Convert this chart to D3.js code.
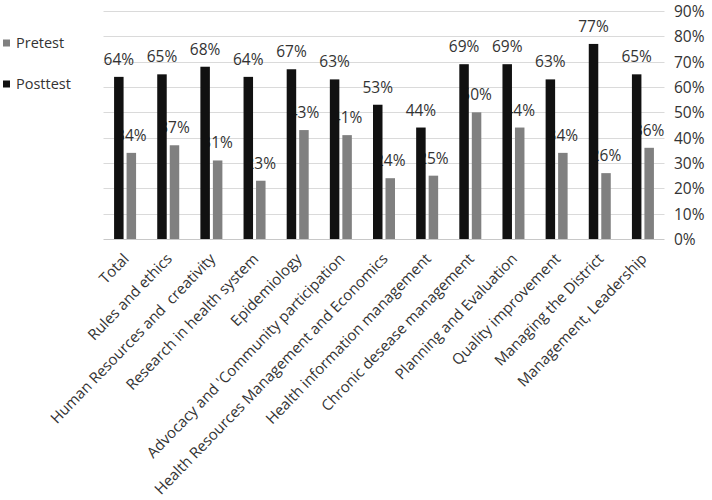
<!DOCTYPE html>
<html><head><meta charset="utf-8">
<script src="https://cdn.jsdelivr.net/npm/d3@7"></script>
<style>body{margin:0;background:#fff}svg{display:block}text{font-family:"Open Sans",sans-serif;white-space:pre}</style>
</head><body><svg id="c" width="712" height="500"></svg>
<script>
const categories = ["Total","Rules and ethics","Human Resources and  creativity","Research in health system","Epidemiology","Advocacy and 'Community participation","Health Resources Management and Economics","Health information management","Chronic desease management","Planning and Evaluation","Quality improvement","Managing the District","Management, Leadership"];
const posttest = [64,65,68,64,67,63,53,44,69,69,63,77,65];
const pretest  = [34,37,31,23,43,41,24,25,50,44,34,26,36];
const yTicks = [0,10,20,30,40,50,60,70,80,90];
const seriesNames = ["Pretest","Posttest"];

(function(){
const svg = d3.select("#c");
const mLeft = 103.5, mRight = 664.5, mTop = 11, mBottom = 239;
const x = d3.scaleBand().domain(categories).range([mLeft, mRight]).padding(0);
const y = d3.scaleLinear().domain([0, 90]).range([mBottom, mTop]);
const bw = 9.5, gap = 3;
const postColor = "#111111", preColor = "#808080", txt = "#333";

svg.append("g").selectAll("line").data(yTicks).join("line")
  .attr("x1", mLeft).attr("x2", mRight)
  .attr("y1", d => Math.round(y(d)) + 0.5).attr("y2", d => Math.round(y(d)) + 0.5)
  .attr("stroke", d => d === 0 ? "#c8c8c8" : "#dadada").attr("stroke-width", 1);

const ax = d3.axisRight(y).tickValues(yTicks).tickFormat(d => d + "%").tickSize(0).tickPadding(0);
const g = svg.append("g").attr("transform", `translate(674,0)`).call(ax);
g.select(".domain").remove();
g.selectAll("text").attr("font-size", 15.5).attr("fill", txt).attr("font-family", '"Open Sans",sans-serif').attr("dy","0.35em");

const cx = d => x(d) + x.bandwidth() / 2;
const data = categories.map((c, i) => ({c, post: posttest[i], pre: pretest[i]}));

svg.append("g").selectAll("text").data(data).join("text")
  .attr("x", d => cx(d.c) + gap/2 + bw/2).attr("y", d => y(d.pre) - 12)
  .attr("text-anchor", "middle").attr("font-size", 15.5).attr("fill", txt)
  .text(d => d.pre + "%");
svg.append("g").selectAll("rect").data(data).join("rect")
  .attr("x", d => cx(d.c) + gap/2).attr("width", bw)
  .attr("y", d => y(d.pre)).attr("height", d => y(0) - y(d.pre)).attr("fill", preColor);
svg.append("g").selectAll("rect").data(data).join("rect")
  .attr("x", d => cx(d.c) - gap/2 - bw).attr("width", bw)
  .attr("y", d => y(d.post)).attr("height", d => y(0) - y(d.post)).attr("fill", postColor);
svg.append("g").selectAll("text").data(data).join("text")
  .attr("x", d => cx(d.c) - gap/2 - bw/2).attr("y", d => y(d.post) - 12)
  .attr("text-anchor", "middle").attr("font-size", 15.5).attr("fill", txt)
  .text(d => d.post + "%");

svg.append("g").selectAll("text").data(categories).join("text")
  .attr("transform", d => `translate(${cx(d) + 1},${mBottom + 17}) rotate(-46)`)
  .attr("text-anchor", "end").attr("dy", "0.35em").attr("font-size", 15).attr("fill", txt)
  .text(d => d);

const leg = svg.append("g");
seriesNames.forEach((n, i) => {
  const yy = 43 + i * 41;
  leg.append("rect").attr("x", 3).attr("y", yy - 3.5).attr("width", 7).attr("height", 7)
    .attr("fill", n === "Pretest" ? preColor : postColor);
  leg.append("text").attr("x", 16).attr("y", yy).attr("dy", "0.35em")
    .attr("font-size", 14.5).attr("fill", txt).text(n);
});
})();
</script></body></html>
